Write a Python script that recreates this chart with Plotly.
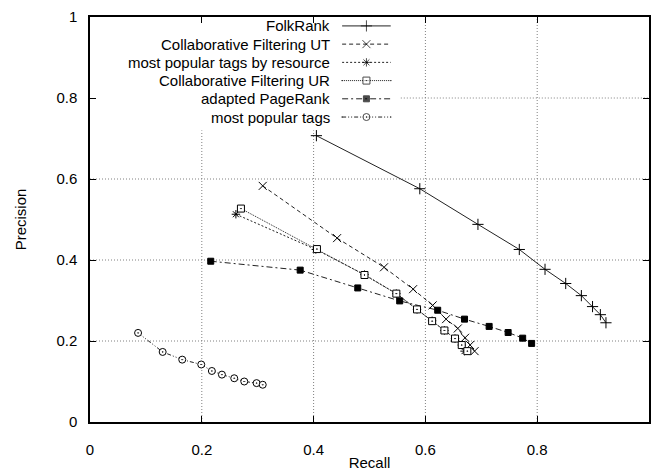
import plotly.graph_objects as go

# ---- data ----
folkrank_x = [0.405, 0.590, 0.694, 0.768, 0.814, 0.851, 0.879, 0.899, 0.913, 0.923]
folkrank_y = [0.707, 0.576, 0.488, 0.426, 0.377, 0.342, 0.312, 0.285, 0.265, 0.245]

cf_ut_x = [0.309, 0.442, 0.526, 0.578, 0.613, 0.637, 0.658, 0.671, 0.680, 0.688]
cf_ut_y = [0.583, 0.454, 0.382, 0.328, 0.288, 0.254, 0.231, 0.208, 0.190, 0.175]

mptr_x = [0.261, 0.404, 0.491, 0.548, 0.585, 0.612, 0.634, 0.653, 0.665, 0.670]
mptr_y = [0.513, 0.426, 0.364, 0.317, 0.278, 0.250, 0.226, 0.206, 0.190, 0.175]

cf_ur_x = [0.270, 0.406, 0.491, 0.548, 0.585, 0.612, 0.634, 0.653, 0.665, 0.675]
cf_ur_y = [0.527, 0.427, 0.363, 0.317, 0.278, 0.249, 0.226, 0.206, 0.190, 0.175]

pr_x = [0.216, 0.376, 0.479, 0.554, 0.622, 0.670, 0.714, 0.748, 0.774, 0.790]
pr_y = [0.397, 0.375, 0.331, 0.299, 0.276, 0.254, 0.236, 0.221, 0.207, 0.194]

mpt_x = [0.086, 0.130, 0.165, 0.199, 0.218, 0.236, 0.258, 0.276, 0.298, 0.309]
mpt_y = [0.220, 0.173, 0.154, 0.142, 0.126, 0.117, 0.108, 0.100, 0.096, 0.092]

names = ["FolkRank", "Collaborative Filtering UT", "most popular tags by resource",
         "Collaborative Filtering UR", "adapted PageRank", "most popular tags"]
xs = [folkrank_x, cf_ut_x, mptr_x, cf_ur_x, pr_x, mpt_x]
ys = [folkrank_y, cf_ut_y, mptr_y, cf_ur_y, pr_y, mpt_y]

x_ticks = [0, 0.2, 0.4, 0.6, 0.8]
x_tick_text = ["0", "0.2", "0.4", "0.6", "0.8"]
y_ticks = [0, 0.2, 0.4, 0.6, 0.8, 1.0]
y_tick_text = ["0", "0.2", "0.4", "0.6", "0.8", "1"]

# ---- styles ----
dashes = ["solid", "4px,3px", "2px,2px", "1px,1px", "6px,3px,2px,3px", "4px,2px,1px,2px,1px,2px"]
symbols = ["cross-thin-open", "x-thin-open", "asterisk-open", "square-dot", "square", "circle-dot"]
sizes = [8, 8, 7, 7, 6, 7]
LINE = "#222222"
GRID = "#808080"
FONT = "Liberation Sans, Arial, sans-serif"

# key box (plot fractions)
KEY_LEFT, KEY_RIGHT, KEY_BOTTOM = 0.02, 0.556, 0.72

fig = go.Figure()

# gridlines (dotted), interrupted by the key box like gnuplot does
for t in x_ticks[1:]:
    top = KEY_BOTTOM if KEY_LEFT < t < KEY_RIGHT else 1
    fig.add_shape(type="line", xref="x", yref="y domain", x0=t, x1=t, y0=0, y1=top,
                  line=dict(color=GRID, width=1, dash="1px,2px"), layer="below")
for t in y_ticks[1:-1]:
    left = KEY_RIGHT if t > KEY_BOTTOM else 0
    fig.add_shape(type="line", xref="x domain", yref="y", x0=left, x1=1, y0=t, y1=t,
                  line=dict(color=GRID, width=1, dash="1px,2px"), layer="below")

for n, x, y, d, s, sz in zip(names, xs, ys, dashes, symbols, sizes):
    fill = "white" if s.endswith("dot") else "black"
    fig.add_trace(go.Scatter(
        x=x, y=y, name=n, mode="lines+markers", showlegend=False,
        line=dict(color=LINE, width=1, dash=d),
        marker=dict(symbol=s, size=sz, color=fill, line=dict(color="black", width=1)),
    ))

# ---- gnuplot-style key: right-aligned text, sample to its right ----
key_rows = [0.978, 0.933, 0.888, 0.843, 0.798, 0.753]  # plot-fraction y of each row
key_text_right = 0.433
key_x0, key_x1 = 0.451, 0.538
for n, d, s, sz, ry in zip(names, dashes, symbols, sizes, key_rows):
    fig.add_annotation(x=key_text_right, y=ry, xref="paper", yref="paper", text=n,
                       showarrow=False, xanchor="right", yanchor="middle",
                       font=dict(size=15, family=FONT, color="black"))
    fill = "white" if s.endswith("dot") else "black"
    fig.add_trace(go.Scatter(
        x=[key_x0, (key_x0 + key_x1) / 2, key_x1], y=[ry, ry, ry],
        xaxis="x2", yaxis="y2", mode="lines+markers", showlegend=False, hoverinfo="skip",
        line=dict(color=LINE, width=1, dash=d),
        marker=dict(symbol=s, size=[0, sz, 0], color=fill, line=dict(color="black", width=1)),
    ))

axis_common = dict(
    showline=True, linecolor="black", linewidth=1.5, mirror="allticks",
    ticks="inside", ticklen=6, tickcolor="black", tickwidth=1,
    showgrid=False, zeroline=False,
    tickfont=dict(size=15, family=FONT, color="black"),
)
fig.update_layout(
    width=652, height=472,
    margin=dict(l=90, r=1, t=17, b=50),
    paper_bgcolor="white", plot_bgcolor="white",
    font=dict(family=FONT, size=15, color="black"),
    xaxis=dict(range=[0, 1], tickvals=x_ticks, ticktext=x_tick_text, ticklabelstandoff=13,
               title=dict(text="Recall", font=dict(size=15), standoff=1), **axis_common),
    yaxis=dict(range=[0, 1], tickvals=y_ticks, ticktext=y_tick_text, ticklabelstandoff=8,
               title=dict(text="Precision", font=dict(size=15), standoff=26), **axis_common),
    xaxis2=dict(overlaying="x", range=[0, 1], visible=False),
    yaxis2=dict(overlaying="y", range=[0, 1], visible=False),
    showlegend=False,
)

fig.write_html("out.html", config={"displayModeBar": False},
               post_script="document.body.style.margin='0';")
